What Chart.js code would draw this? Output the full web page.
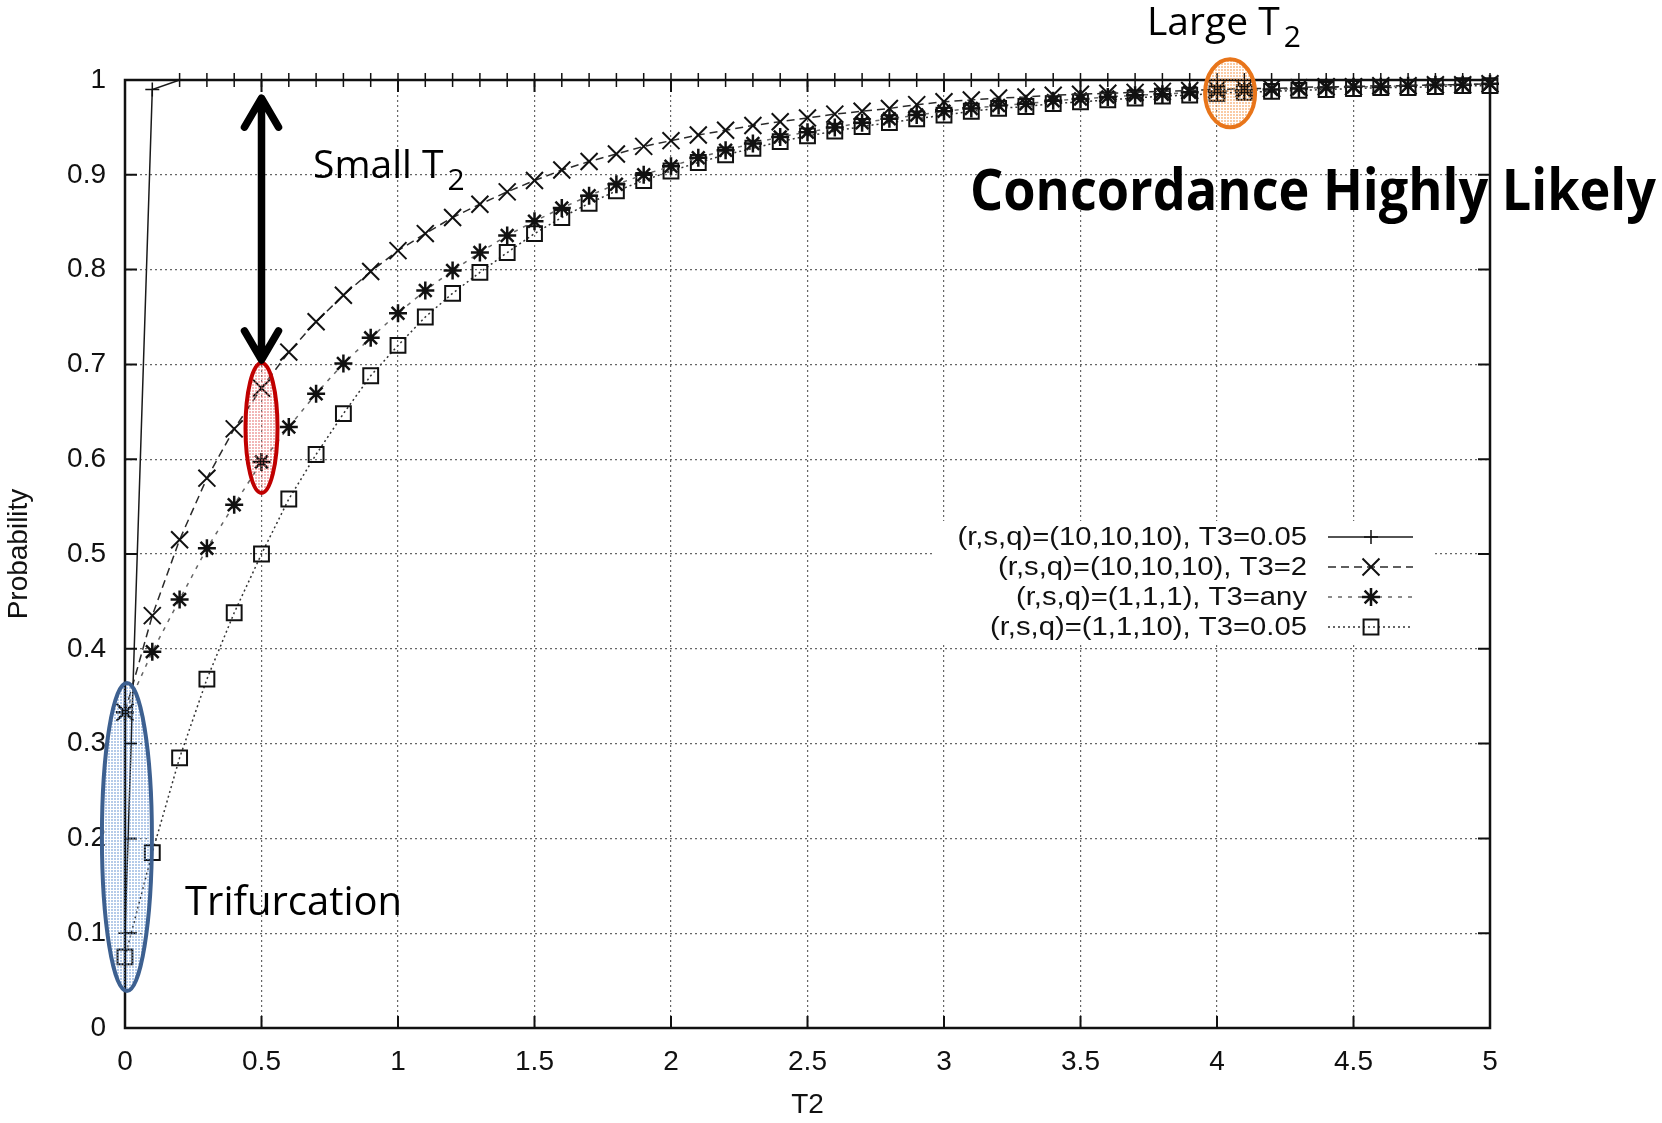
<!DOCTYPE html>
<html>
<head>
<meta charset="utf-8">
<title>Probability vs T2</title>
<script src="https://cdn.jsdelivr.net/npm/chart.js@4/dist/chart.umd.min.js"></script>
<style>
  html, body { margin: 0; padding: 0; background: #fff; }
  #wrap { width: 1662px; height: 1123px; position: relative; }
</style>
</head>
<body>
<div id="wrap"><canvas id="chart"></canvas></div>
<script>
// T2 values the curves were sampled at
const t2Values = [0, 0.1, 0.2, 0.3, 0.4, 0.5, 0.6, 0.7, 0.8, 0.9,
  1, 1.1, 1.2, 1.3, 1.4, 1.5, 1.6, 1.7, 1.8, 1.9,
  2, 2.1, 2.2, 2.3, 2.4, 2.5, 2.6, 2.7, 2.8, 2.9,
  3, 3.1, 3.2, 3.3, 3.4, 3.5, 3.6, 3.7, 3.8, 3.9,
  4, 4.1, 4.2, 4.3, 4.4, 4.5, 4.6, 4.7, 4.8, 4.9, 5];

// (r,s,q)=(10,10,10), T3=0.05
const probA = [0.10, 0.99, 1, 1, 1, 1, 1, 1, 1, 1,
  1, 1, 1, 1, 1, 1, 1, 1, 1, 1,
  1, 1, 1, 1, 1, 1, 1, 1, 1, 1,
  1, 1, 1, 1, 1, 1, 1, 1, 1, 1,
  1, 1, 1, 1, 1, 1, 1, 1, 1, 1, 1];

// (r,s,q)=(10,10,10), T3=2
const probB = [0.333, 0.435, 0.515, 0.580, 0.632, 0.675, 0.713, 0.745, 0.773, 0.798,
  0.820, 0.838, 0.855, 0.869, 0.882, 0.894, 0.905, 0.914, 0.922, 0.930,
  0.936, 0.942, 0.947, 0.952, 0.956, 0.960, 0.964, 0.967, 0.970, 0.974,
  0.977, 0.979, 0.981, 0.982, 0.984, 0.985, 0.986, 0.987, 0.988, 0.989,
  0.990, 0.991, 0.991, 0.992, 0.993, 0.993, 0.994, 0.994, 0.995, 0.995, 0.996];

// (r,s,q)=(1,1,1), T3=any
const probC = [0.333, 0.397, 0.452, 0.506, 0.552, 0.597, 0.634, 0.669, 0.701, 0.728,
  0.754, 0.778, 0.799, 0.818, 0.836, 0.851, 0.865, 0.878, 0.890, 0.900,
  0.909, 0.918, 0.926, 0.933, 0.940, 0.945, 0.950, 0.955, 0.959, 0.963,
  0.967, 0.970, 0.973, 0.975, 0.978, 0.980, 0.982, 0.984, 0.985, 0.987,
  0.988, 0.989, 0.990, 0.991, 0.992, 0.993, 0.993, 0.994, 0.995, 0.995, 0.996];

// (r,s,q)=(1,1,10), T3=0.05
const probD = [0.075, 0.185, 0.285, 0.368, 0.438, 0.500, 0.558, 0.605, 0.648, 0.688,
  0.720, 0.750, 0.775, 0.797, 0.818, 0.838, 0.855, 0.870, 0.883, 0.894,
  0.904, 0.913, 0.921, 0.928, 0.935, 0.941, 0.946, 0.951, 0.955, 0.959,
  0.963, 0.967, 0.970, 0.972, 0.975, 0.977, 0.979, 0.981, 0.983, 0.984,
  0.986, 0.987, 0.988, 0.989, 0.990, 0.991, 0.992, 0.992, 0.993, 0.994, 0.994];

const seriesLabels = [
  '(r,s,q)=(10,10,10), T3=0.05',
  '(r,s,q)=(10,10,10), T3=2',
  '(r,s,q)=(1,1,1), T3=any',
  '(r,s,q)=(1,1,10), T3=0.05'
];

const xTickValues = [0, 0.5, 1, 1.5, 2, 2.5, 3, 3.5, 4, 4.5, 5];
const yTickValues = [0, 0.1, 0.2, 0.3, 0.4, 0.5, 0.6, 0.7, 0.8, 0.9, 1];

const axisFont = '"Liberation Sans", Arial, sans-serif';
const noteFont = '"Open Sans", "Noto Sans", sans-serif';

function toPoints(values) {
  return t2Values.map((t, i) => ({ x: t, y: values[i] }));
}

function makeSeries(label, values, style) {
  return Object.assign({
    label: label,
    data: toPoints(values),
    borderColor: '#2a2a2a',
    borderWidth: 1.5,
    pointBorderColor: '#111',
    pointBackgroundColor: 'rgba(0,0,0,0)',
    pointHoverRadius: 0,
    tension: 0,
    fill: false,
    clip: false
  }, style);
}

// light stipple used inside the highlight ellipses
function dotPattern(ctx, color) {
  const c = document.createElement('canvas');
  c.width = 3; c.height = 3;
  const g = c.getContext('2d');
  g.fillStyle = color;
  g.fillRect(0, 0, 2, 2);
  return ctx.createPattern(c, 'repeat');
}

function drawEllipse(ctx, cx, cy, rx, ry, stroke, fill) {
  ctx.beginPath();
  ctx.ellipse(cx, cy, rx, ry, 0, 0, Math.PI * 2);
  ctx.fillStyle = dotPattern(ctx, fill);
  ctx.fill();
  ctx.setLineDash([]);
  ctx.lineWidth = 4;
  ctx.strokeStyle = stroke;
  ctx.stroke();
}

// text with a subscript, e.g. "Small T" + "2"
function drawSubLabel(ctx, main, sub, x, baseline) {
  ctx.textAlign = 'left';
  ctx.textBaseline = 'alphabetic';
  ctx.font = '39px ' + noteFont;
  ctx.fillText(main, x, baseline);
  const w = ctx.measureText(main).width;
  ctx.font = '30px ' + noteFont;
  ctx.fillText(sub, x + w + 4, baseline + 12);
}

const overlayPlugin = {
  id: 'overlay',
  afterDraw(chart) {
    const { ctx, chartArea: a, scales: { x, y } } = chart;
    ctx.save();

    // legend (gnuplot style: text right aligned, sample on the right)
    ctx.fillStyle = '#fff';
    ctx.fillRect(935, 521, 497, 121);
    chart.data.datasets.forEach((ds, i) => {
      const yc = 537 + i * 30;
      ctx.save();
      ctx.translate(1307, yc);
      ctx.scale(1.17, 1);
      ctx.font = '25px ' + axisFont;
      ctx.fillStyle = '#111';
      ctx.textAlign = 'right';
      ctx.textBaseline = 'middle';
      ctx.fillText(ds.label, 0, 1);
      ctx.restore();

      ctx.strokeStyle = ds.borderColor;
      ctx.lineWidth = ds.borderWidth;
      ctx.setLineDash(ds.borderDash || []);
      ctx.beginPath();
      ctx.moveTo(1328, yc);
      ctx.lineTo(1413, yc);
      ctx.stroke();
      ctx.setLineDash([]);
      ctx.strokeStyle = ds.pointBorderColor;
      ctx.fillStyle = ds.pointBackgroundColor;
      ctx.lineWidth = ds.pointBorderWidth;
      Chart.helpers.drawPoint(ctx, {
        pointStyle: ds.pointStyle,
        radius: ds.pointRadius,
        rotation: 0,
        borderWidth: ds.pointBorderWidth
      }, 1371, yc);
    });

    // plot frame and inward tick marks
    ctx.setLineDash([]);
    ctx.strokeStyle = '#111';
    ctx.lineWidth = 2.5;
    ctx.strokeRect(a.left, a.top, a.right - a.left, a.bottom - a.top);
    ctx.lineWidth = 2;
    ctx.beginPath();
    xTickValues.forEach(v => {
      const px = x.getPixelForValue(v);
      ctx.moveTo(px, a.bottom); ctx.lineTo(px, a.bottom - 12);
      ctx.moveTo(px, a.top); ctx.lineTo(px, a.top + 12);
    });
    yTickValues.forEach(v => {
      const py = y.getPixelForValue(v);
      ctx.moveTo(a.left, py); ctx.lineTo(a.left + 12, py);
      ctx.moveTo(a.right, py); ctx.lineTo(a.right - 12, py);
    });
    ctx.stroke();

    // highlight ellipses
    drawEllipse(ctx, x.getPixelForValue(0.007), y.getPixelForValue(0.2015), 25, 154,
      '#3d6090', 'rgba(120,160,215,0.55)');
    drawEllipse(ctx, x.getPixelForValue(0.5), y.getPixelForValue(0.633), 16, 65,
      '#c00000', 'rgba(230,110,110,0.5)');
    drawEllipse(ctx, x.getPixelForValue(4.048), y.getPixelForValue(0.986), 25, 34,
      '#e8751a', 'rgba(245,160,90,0.55)');

    // double headed arrow at T2 = 0.5
    const ax = x.getPixelForValue(0.5);
    const yTop = y.getPixelForValue(0.984);
    const yBot = y.getPixelForValue(0.7015);
    ctx.strokeStyle = '#000';
    ctx.lineWidth = 7.5;
    ctx.lineCap = 'round';
    ctx.lineJoin = 'round';
    ctx.beginPath();
    ctx.moveTo(ax, yTop + 4);
    ctx.lineTo(ax, yBot - 4);
    ctx.moveTo(ax - 17, yTop + 32); ctx.lineTo(ax, yTop + 3); ctx.lineTo(ax + 17, yTop + 32);
    ctx.moveTo(ax - 17, yBot - 32); ctx.lineTo(ax, yBot - 3); ctx.lineTo(ax + 17, yBot - 32);
    ctx.stroke();

    // annotations
    ctx.fillStyle = '#000';
    drawSubLabel(ctx, 'Small T', '2', 313, 178);
    drawSubLabel(ctx, 'Large T', '2', 1147, 35);
    ctx.font = '40px ' + noteFont;
    ctx.fillText('Trifurcation', 185, 915);

    const big = 'Concordance Highly Likely';
    ctx.font = 'bold 57px ' + noteFont;
    const bw = ctx.measureText(big).width;
    ctx.save();
    ctx.translate(970, 210);
    ctx.scale(686 / bw, 1);
    ctx.fillText(big, 0, 0);
    ctx.restore();

    ctx.restore();
  }
};

const whiteBg = {
  id: 'whiteBg',
  beforeDraw(chart) {
    const ctx = chart.ctx;
    ctx.save();
    ctx.fillStyle = '#fff';
    ctx.fillRect(0, 0, chart.width, chart.height);
    ctx.restore();
  }
};

new Chart(document.getElementById('chart'), {
  type: 'line',
  data: {
    datasets: [
      makeSeries(seriesLabels[0], probA, {
        borderColor: '#1a1a1a', pointStyle: 'cross', pointRadius: 7, pointBorderWidth: 1.5
      }),
      makeSeries(seriesLabels[1], probB, {
        borderColor: '#2a2a2a', borderDash: [8, 5], pointStyle: 'crossRot', pointRadius: 12, pointBorderWidth: 2
      }),
      makeSeries(seriesLabels[2], probC, {
        borderColor: '#666', borderDash: [4, 6], pointStyle: 'star', pointRadius: 9, pointBorderWidth: 2.5
      }),
      makeSeries(seriesLabels[3], probD, {
        borderColor: '#333', borderDash: [2, 3], pointStyle: 'rect', pointRadius: 10.5, pointBorderWidth: 2
      })
    ]
  },
  options: {
    responsive: true,
    maintainAspectRatio: false,
    animation: false,
    events: [],
    layout: { padding: { left: 0, right: 172, top: 80, bottom: 0 } },
    plugins: {
      legend: { display: false },
      tooltip: { enabled: false }
    },
    scales: {
      x: {
        type: 'linear',
        min: 0,
        max: 5,
        afterFit: s => { s.height = 95; },
        afterBuildTicks: s => { s.ticks = xTickValues.map(v => ({ value: v })); },
        grid: { color: '#666', lineWidth: 1.2, drawTicks: false },
        border: { display: false, dash: [2, 3] },
        ticks: {
          padding: 17,
          color: '#111',
          maxRotation: 0,
          autoSkip: false,
          font: { family: axisFont, size: 28 },
          callback: v => String(v)
        },
        title: {
          display: true,
          text: 'T2',
          color: '#111',
          font: { family: axisFont, size: 28 },
          padding: { top: 0, bottom: 1 }
        }
      },
      y: {
        type: 'linear',
        min: 0,
        max: 1,
        afterFit: s => { s.width = 125; },
        afterBuildTicks: s => { s.ticks = yTickValues.map(v => ({ value: v })); },
        grid: { color: '#666', lineWidth: 1.2, drawTicks: false },
        border: { display: false, dash: [2, 3] },
        ticks: {
          padding: 19,
          color: '#111',
          autoSkip: false,
          font: { family: axisFont, size: 28 },
          callback: v => String(v)
        },
        title: {
          display: true,
          text: 'Probability',
          color: '#111',
          font: { family: axisFont, size: 28 },
          padding: { top: 2, bottom: 0 }
        }
      }
    }
  },
  plugins: [whiteBg, overlayPlugin]
});
</script>
</body>
</html>
